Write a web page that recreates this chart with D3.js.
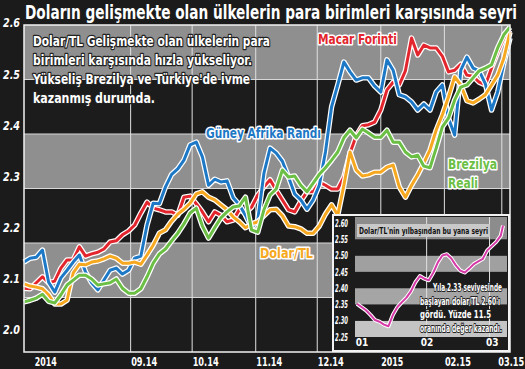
<!DOCTYPE html>
<html>
<head>
<meta charset="utf-8">
<script src="https://cdn.jsdelivr.net/npm/d3@7"></script>
<style>
  body { margin: 0; background: #1b1b1b; }
  text { font-family: "DejaVu Sans", sans-serif; font-stretch: condensed; font-weight: bold; }
</style>
</head>
<body>
<div id="chart"></div>
<script>
// ---- data ----
const dates = [
  "2014-07-11","2014-07-14","2014-07-17","2014-07-20","2014-07-23","2014-07-26","2014-07-29",
  "2014-08-01","2014-08-04","2014-08-07","2014-08-10","2014-08-13","2014-08-16","2014-08-19","2014-08-22","2014-08-25","2014-08-28","2014-08-31",
  "2014-09-03","2014-09-06","2014-09-09","2014-09-12","2014-09-15","2014-09-18","2014-09-21","2014-09-24","2014-09-27","2014-09-30",
  "2014-10-03","2014-10-06","2014-10-09","2014-10-12","2014-10-15","2014-10-18","2014-10-21","2014-10-24","2014-10-27","2014-10-30",
  "2014-11-02","2014-11-05","2014-11-08","2014-11-11","2014-11-14","2014-11-17","2014-11-20","2014-11-23","2014-11-26","2014-11-29",
  "2014-12-02","2014-12-05","2014-12-08","2014-12-11","2014-12-14","2014-12-17","2014-12-20","2014-12-23","2014-12-26","2014-12-29",
  "2015-01-01","2015-01-04","2015-01-07","2015-01-10","2015-01-13","2015-01-16","2015-01-19","2015-01-22","2015-01-25","2015-01-28","2015-01-31",
  "2015-02-03","2015-02-06","2015-02-09","2015-02-12","2015-02-15","2015-02-18","2015-02-21","2015-02-24","2015-02-27",
  "2015-03-02","2015-03-05"
];

// Güney Afrika Randı
const randValues = [
  2.165,2.172,2.174,2.187,2.128,2.110,2.136,2.150,2.165,2.178,
  2.147,2.127,2.114,2.132,2.150,2.154,2.143,2.150,2.172,2.176,
  2.233,2.273,2.272,2.303,2.326,2.336,2.352,2.380,2.385,2.358,
  2.306,2.317,2.312,2.314,2.283,2.270,2.251,2.228,2.242,2.328,
  2.374,2.365,2.350,2.321,2.290,2.279,2.262,2.279,2.306,2.367,
  2.450,2.490,2.532,2.514,2.499,2.503,2.503,2.488,2.477,2.536,
  2.517,2.472,2.468,2.459,2.444,2.455,2.444,2.477,2.490,2.429,
  2.398,2.517,2.541,2.521,2.516,2.492,2.444,2.477,2.530,2.576
];

// Macar Forinti
const forintValues = [
  2.117,2.116,2.127,2.138,2.127,2.130,2.154,2.169,2.169,2.193,
  2.176,2.180,2.183,2.189,2.202,2.204,2.215,2.222,2.233,2.255,
  2.275,2.264,2.261,2.257,2.257,2.251,2.284,2.286,2.272,2.257,
  2.239,2.257,2.251,2.239,2.242,2.261,2.255,2.266,2.288,2.303,
  2.316,2.297,2.279,2.261,2.257,2.277,2.294,2.294,2.312,2.306,
  2.299,2.299,2.321,2.365,2.397,2.415,2.417,2.422,2.444,2.481,
  2.495,2.490,2.516,2.576,2.545,2.563,2.558,2.558,2.543,2.514,
  2.517,2.528,2.508,2.506,2.495,2.490,2.521,2.550,2.576,2.591
];

// Dolar/TL
const dolarTLValues = [
  2.125,2.121,2.119,2.116,2.105,2.088,2.088,2.095,2.145,2.161,
  2.160,2.165,2.167,2.171,2.176,2.172,2.163,2.163,2.165,2.161,
  2.178,2.196,2.218,2.224,2.240,2.253,2.262,2.273,2.290,2.294,
  2.284,2.279,2.270,2.261,2.248,2.239,2.228,2.235,2.239,2.250,
  2.261,2.262,2.250,2.231,2.230,2.226,2.218,2.218,2.231,2.253,
  2.270,2.251,2.306,2.367,2.334,2.323,2.325,2.330,2.330,2.339,
  2.343,2.303,2.284,2.306,2.325,2.347,2.371,2.407,2.435,2.468,
  2.505,2.490,2.461,2.457,2.464,2.472,2.490,2.508,2.539,2.587
];

// Brezilya Reali
const realValues = [
  2.092,2.095,2.099,2.106,2.093,2.090,2.105,2.123,2.132,2.141,
  2.141,2.134,2.123,2.125,2.127,2.134,2.117,2.108,2.108,2.116,
  2.138,2.163,2.180,2.189,2.204,2.218,2.235,2.255,2.264,2.231,
  2.209,2.228,2.246,2.257,2.266,2.268,2.284,2.224,2.220,2.261,
  2.288,2.299,2.334,2.321,2.323,2.306,2.294,2.310,2.326,2.338,
  2.352,2.367,2.393,2.407,2.393,2.409,2.402,2.394,2.394,2.407,
  2.385,2.385,2.367,2.358,2.361,2.341,2.338,2.374,2.413,2.429,
  2.462,2.486,2.490,2.503,2.516,2.521,2.527,2.558,2.582,2.596
];

const yTicks = [2.0, 2.1, 2.2, 2.3, 2.4, 2.5, 2.6];
const gridDates = ["2014-09-01","2014-10-01","2014-11-01","2014-12-01","2015-01-01","2015-02-01","2015-03-01"];
const xTickDates = ["2014-07-16","2014-09-01","2014-10-01","2014-11-01","2014-12-01","2015-01-01","2015-02-01","2015-02-27"];
const xTickLabels = ["2014","09.14","10.14","11.14","12.14","2015","02.15","03.15"];

// inset: Dolar/TL since new year
const insetDates = [
  "2015-01-01","2015-01-03","2015-01-05","2015-01-07","2015-01-09","2015-01-11","2015-01-13","2015-01-15",
  "2015-01-17","2015-01-19","2015-01-21","2015-01-23","2015-01-25","2015-01-27","2015-01-29","2015-01-31",
  "2015-02-02","2015-02-04","2015-02-06","2015-02-08","2015-02-10","2015-02-12","2015-02-14","2015-02-16",
  "2015-02-18","2015-02-20","2015-02-22","2015-02-24","2015-02-26","2015-02-28","2015-03-02","2015-03-04",
  "2015-03-06","2015-03-07"
];
const insetValues = [
  2.352,2.342,2.332,2.318,2.302,2.297,2.288,2.283,
  2.318,2.342,2.357,2.371,2.390,2.418,2.437,2.429,
  2.424,2.448,2.479,2.500,2.504,2.491,2.470,2.454,
  2.448,2.460,2.474,2.482,2.490,2.516,2.529,2.542,
  2.561,2.592
];
const insetYTicks = [2.25, 2.30, 2.35, 2.40, 2.45, 2.50, 2.55, 2.60];
const insetGridDates = ["2015-02-01","2015-03-01"];
const insetXTickDates = ["2015-01-03","2015-02-01","2015-03-02"];
const insetXTickLabels = ["01","02","03"];

const title = "Doların gelişmekte olan ülkelerin para birimleri karşısında seyri";
const noteLines = ["Dolar/TL Gelişmekte olan ülkelerin para",
                   "birimleri karşısında hızla yükseliyor.",
                   "Yükseliş Brezilya ve Türkiye'de ivme",
                   "kazanmış durumda."];
const insetTitle = "Dolar/TL'nin yılbaşından bu yana seyri";
const insetNote = ["Yıla 2.33 seviyesinde", "başlayan dolar/TL 2.60'ı", "gördü. Yüzde 11.5", "oranında değer kazandı."];

// ---- chart ----
const W = 525, H = 369;
const margin = ({top: 25, right: 15, bottom: 17, left: 24});
const width = W - margin.left - margin.right, height = H - margin.top - margin.bottom;
const parse = d3.timeParse("%Y-%m-%d");

// squeeze a text to the width it has in the original
function fit(sel, w) {
  sel.attr("textLength", w).attr("lengthAdjust", "spacingAndGlyphs");
}

const svg = d3.select("#chart").append("svg")
  .attr("width", W).attr("height", H);
svg.append("rect").attr("width", W).attr("height", H).attr("fill", "#1b1b1b");

svg.append("text")
  .attr("x", 25).attr("y", 19)
  .attr("fill", "#fff").attr("font-size", 19)
  .text(title)
  .call(fit, 492);

const g = svg.append("g").attr("transform", `translate(${margin.left}, ${margin.top})`);

const xScale = d3.scaleTime()
  .domain([parse("2014-07-11"), parse("2015-03-05")])
  .range([0, width]);
const yScale = d3.scaleLinear().domain([2.0, 2.6]).range([height, 0]);
// labels sit a little above the band edges in the original
const yLabelScale = d3.scaleLinear().domain([2.0, 2.6]).range([305, -2]);

g.selectAll(".band").data(d3.pairs(yTicks)).join("rect")
  .attr("class", "band")
  .attr("x", 0).attr("width", width)
  .attr("y", d => yScale(d[1]))
  .attr("height", d => yScale(d[0]) - yScale(d[1]))
  .attr("fill", (d, i) => i % 2 ? "#8f8f8f" : "#1c1c1c");

g.selectAll(".hgrid").data(yTicks.slice(1, -1)).join("line")
  .attr("x1", 0).attr("x2", width)
  .attr("y1", d => yScale(d)).attr("y2", d => yScale(d))
  .attr("stroke", "#d8d8d8").attr("stroke-width", 1);

g.selectAll(".vgrid").data(gridDates).join("line")
  .attr("x1", d => xScale(parse(d))).attr("x2", d => xScale(parse(d)))
  .attr("y1", 0).attr("y2", height)
  .attr("stroke", "#e0e0e0").attr("stroke-width", 1);

const series = [
  {name: "forint", values: forintValues, color: "#e3262d"},
  {name: "rand", values: randValues, color: "#1d78c6"},
  {name: "tl", values: dolarTLValues, color: "#f6a820"},
  {name: "real", values: realValues, color: "#6bbf45"}
];

const line = d3.line()
  .x((d, i) => xScale(parse(dates[i])))
  .y(d => yScale(d));

series.forEach(s => {
  g.append("path").datum(s.values)
    .attr("fill", "none").attr("stroke", "#fff").attr("stroke-width", 5.5)
    .attr("stroke-linejoin", "round").attr("d", line);
  g.append("path").datum(s.values)
    .attr("fill", "none").attr("stroke", s.color).attr("stroke-width", 3)
    .attr("stroke-linejoin", "round").attr("d", line);
});

g.append("rect").attr("width", width).attr("height", height)
  .attr("fill", "none").attr("stroke", "#f2f2f2").attr("stroke-width", 1.5);

// y axis
const yAxis = svg.append("g")
  .attr("transform", `translate(20, ${margin.top})`)
  .call(d3.axisLeft(yLabelScale).tickValues(yTicks).tickFormat(d3.format(".1f")).tickSize(0).tickPadding(0));
yAxis.select(".domain").remove();
yAxis.selectAll("text").attr("fill", "#fff").attr("font-size", 12).attr("font-style", "italic")
  .attr("font-family", null).call(fit, 17);

// x axis
const xAxis = svg.append("g")
  .attr("transform", `translate(${margin.left}, 358)`)
  .call(d3.axisBottom(xScale).tickValues(xTickDates.map(parse))
    .tickFormat((d, i) => xTickLabels[i]).tickSize(0).tickPadding(0));
xAxis.select(".domain").remove();
xAxis.selectAll("text").attr("fill", "#fff").attr("font-size", 11.5).attr("text-anchor", "start")
  .attr("font-family", null)
  .each(function(d, i) { d3.select(this).call(fit, xTickLabels[i].length === 4 ? 22 : 26); });

// note
const noteWidths = [237, 219, 217, 122];
svg.append("g").selectAll("text").data(noteLines).join("text")
  .attr("x", 33).attr("y", (d, i) => 46 + i * 19)
  .attr("fill", "#fff").attr("stroke", "#222").attr("stroke-width", 2.5)
  .attr("paint-order", "stroke").attr("stroke-linejoin", "round")
  .attr("font-size", 14)
  .text(d => d)
  .each(function(d, i) { d3.select(this).call(fit, noteWidths[i]); });

// series labels
const seriesLabels = [
  {text: "Macar Forinti", x: 318, y: 44, w: 79, color: "#e3262d"},
  {text: "Güney Afrika Randı", x: 206, y: 138, w: 115, color: "#1d78c6"},
  {text: "Brezilya", x: 448, y: 169, w: 49, color: "#6bbf45"},
  {text: "Reali", x: 448, y: 188, w: 30, color: "#6bbf45"},
  {text: "Dolar/TL", x: 260, y: 258, w: 53, color: "#f6a820"}
];
svg.append("g").selectAll("text").data(seriesLabels).join("text")
  .attr("x", d => d.x).attr("y", d => d.y)
  .attr("fill", d => d.color).attr("stroke", "#fff").attr("stroke-width", 3)
  .attr("paint-order", "stroke").attr("stroke-linejoin", "round")
  .attr("font-size", 13.5)
  .text(d => d.text)
  .each(function(d) { d3.select(this).call(fit, d.w); });

// ---- inset ----
const inset = svg.append("g");
const ix = d3.scaleTime().domain([parse("2015-01-01"), parse("2015-03-07")]).range([357, 503]);
const iy = d3.scaleLinear().domain([2.25, 2.60]).range([337, 223]);

inset.append("rect").attr("x", 333).attr("y", 215).attr("width", 176).attr("height", 136)
  .attr("fill", "#1c1c1c").attr("stroke", "#f2f2f2").attr("stroke-width", 2);

const insetBandFill = ["#c4c4c4", "#1c1c1c", "#a5a5a5", "#1c1c1c", "#a0a0a0", "#1c1c1c", "#8c8c8c"];
inset.selectAll(".iband").data(d3.pairs(insetYTicks)).join("rect")
  .attr("x", 355).attr("width", 152)
  .attr("y", (d, i) => i === insetYTicks.length - 2 ? 217 : iy(d[1]))
  .attr("height", (d, i) => iy(d[0]) - (i === insetYTicks.length - 2 ? 217 : iy(d[1])))
  .attr("fill", (d, i) => insetBandFill[i]);

inset.selectAll(".ivgrid").data(insetGridDates).join("line")
  .attr("x1", d => ix(parse(d))).attr("x2", d => ix(parse(d)))
  .attr("y1", 217).attr("y2", 337)
  .attr("stroke", "#e0e0e0").attr("stroke-width", 1);

inset.append("rect").attr("x", 357).attr("y", 224).attr("width", 133).attr("height", 13)
  .attr("fill", "#c9c9c9");
inset.append("text").attr("x", 359).attr("y", 234)
  .attr("fill", "#111").attr("font-size", 9.5)
  .text(insetTitle)
  .call(fit, 129);

const iline = d3.line()
  .x((d, i) => ix(parse(insetDates[i])))
  .y(d => iy(d));
inset.append("path").datum(insetValues)
  .attr("fill", "none").attr("stroke", "#fff").attr("stroke-width", 4)
  .attr("stroke-linejoin", "round").attr("d", iline);
inset.append("path").datum(insetValues)
  .attr("fill", "none").attr("stroke", "#d63aa8").attr("stroke-width", 2)
  .attr("stroke-linejoin", "round").attr("d", iline);

const iyAxis = inset.append("g").attr("transform", "translate(348, 0)")
  .call(d3.axisLeft(iy).tickValues(insetYTicks).tickFormat(d3.format(".2f")).tickSize(0).tickPadding(0));
iyAxis.select(".domain").remove();
iyAxis.selectAll("text").attr("fill", "#fff").attr("font-size", 10).attr("font-style", "italic")
  .attr("font-family", null).call(fit, 13);

const ixAxis = inset.append("g").attr("transform", "translate(0, 339)")
  .call(d3.axisBottom(ix).tickValues(insetXTickDates.map(parse))
    .tickFormat((d, i) => insetXTickLabels[i]).tickSize(0).tickPadding(0));
ixAxis.select(".domain").remove();
ixAxis.selectAll("text").attr("fill", "#fff").attr("font-size", 10)
  .attr("font-family", null);

const insetNoteWidths = [69, 80, 71, 82];
inset.append("g").selectAll("text").data(insetNote).join("text")
  .attr("x", (d, i) => i === 0 ? 433 : 420)
  .attr("y", (d, i) => 291 + i * 13.7)
  .attr("fill", "#fff").attr("stroke", "#222").attr("stroke-width", 2)
  .attr("paint-order", "stroke").attr("stroke-linejoin", "round")
  .attr("font-size", 11)
  .text(d => d)
  .each(function(d, i) { d3.select(this).call(fit, insetNoteWidths[i]); });
</script>
</body>
</html>
